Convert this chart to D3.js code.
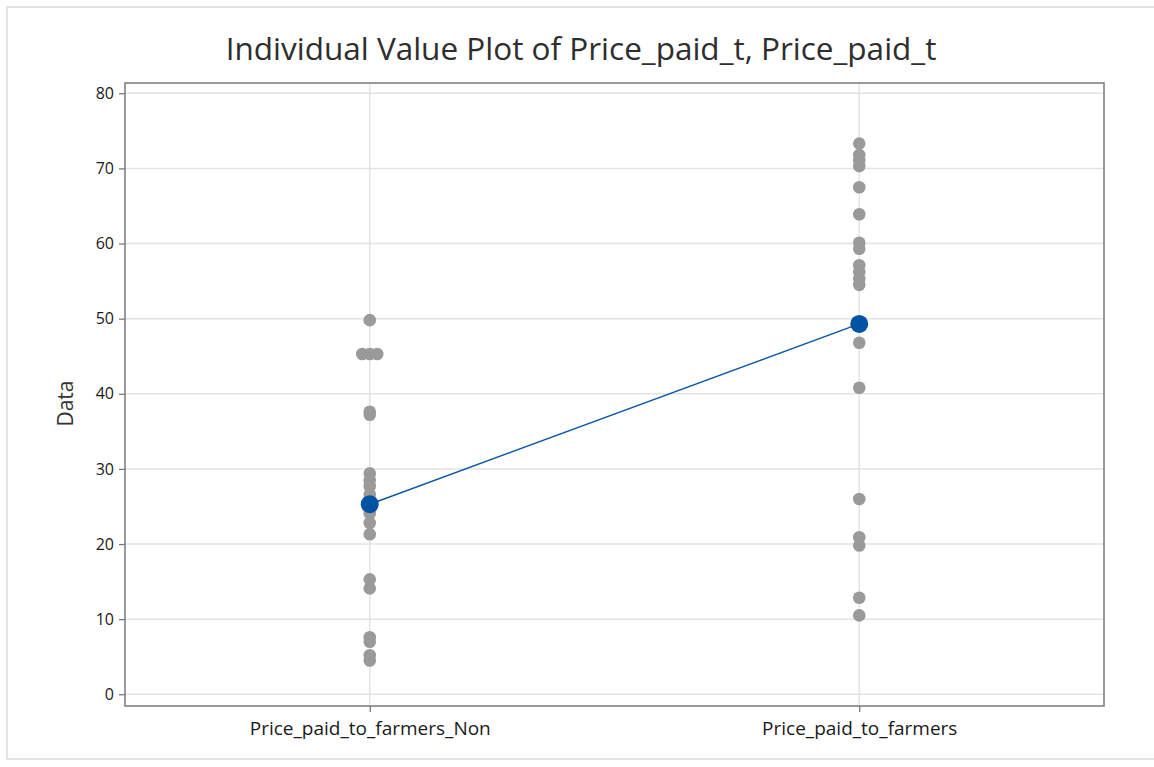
<!DOCTYPE html>
<html>
<head>
<meta charset="utf-8">
<script src="https://cdn.jsdelivr.net/npm/d3@7/dist/d3.min.js"></script>
<style>
  html, body { margin: 0; padding: 0; background: #fff; }
  svg { display: block; }
  text { font-family: "Open Sans", "Noto Sans", sans-serif; }
</style>
</head>
<body>
<svg id="chart" width="1154" height="767"></svg>
<script>
// ---- data ----
const categories = ["Price_paid_to_farmers_Non", "Price_paid_to_farmers"];
const valuesNon = [49.8, 45.3, 45.3, 45.3, 37.6, 37.2, 29.4, 28.5, 27.7, 26.6, 25.5,
                   24.1, 22.8, 21.3, 15.3, 14.1, 7.6, 7.0, 5.2, 4.5];
const valuesFarmers = [73.3, 71.8, 71.1, 70.3, 67.5, 63.9, 60.1, 59.3, 57.1, 56.2, 55.3,
                       54.5, 49.3, 46.8, 40.8, 26.0, 20.9, 19.8, 12.85, 10.5];
const means = [25.3, 49.3];
const yTicks = [0, 10, 20, 30, 40, 50, 60, 70, 80];
const titleText = "Individual Value Plot of Price_paid_t, Price_paid_t";
const yLabel = "Data";

const series = [valuesNon, valuesFarmers];

// ---- layout ----
const svg = d3.select("#chart");
const plot = { left: 125, right: 1104, top: 83, bottom: 706 };

// outer frame
svg.append("rect")
  .attr("x", 7).attr("y", 7).attr("width", 1170).attr("height", 752)
  .attr("fill", "none").attr("stroke", "#dcdcdc").attr("stroke-width", 1.5);

const x = d3.scalePoint().domain(categories)
  .range([plot.left, plot.right]).padding(0.5);
const y = d3.scaleLinear().domain([-1.56, 81.37])
  .range([plot.bottom, plot.top]);

// gridlines
const g = svg.append("g");
g.selectAll("line.hgrid").data(yTicks).enter().append("line")
  .attr("class", "hgrid")
  .attr("x1", plot.left).attr("x2", plot.right)
  .attr("y1", d => y(d)).attr("y2", d => y(d))
  .attr("stroke", "#e3e3e3").attr("stroke-width", 1.5);
g.selectAll("line.vgrid").data(categories).enter().append("line")
  .attr("class", "vgrid")
  .attr("x1", d => x(d)).attr("x2", d => x(d))
  .attr("y1", plot.top).attr("y2", plot.bottom)
  .attr("stroke", "#e3e3e3").attr("stroke-width", 1.5);

// axes
const yAxis = d3.axisLeft(y).tickValues(yTicks).tickSize(6).tickPadding(5);
const yG = svg.append("g").attr("transform", `translate(${plot.left},0)`).call(yAxis);
yG.select(".domain").remove();
yG.selectAll(".tick line").attr("stroke", "#707070").attr("stroke-width", 1.2);
yG.selectAll(".tick text").attr("fill", "#1a1a1a").style("font-size", "16px")
  .style("font-family", "'Open Sans', sans-serif");

const xAxis = d3.axisBottom(x).tickSize(6).tickPadding(10);
const xG = svg.append("g").attr("transform", `translate(0,${plot.bottom})`).call(xAxis);
xG.select(".domain").remove();
xG.selectAll(".tick line").attr("stroke", "#707070").attr("stroke-width", 1.2);
xG.selectAll(".tick text").attr("fill", "#1a1a1a").style("font-size", "19px")
  .style("font-family", "'Open Sans', sans-serif");

// plot frame
svg.append("rect")
  .attr("x", plot.left).attr("y", plot.top)
  .attr("width", plot.right - plot.left).attr("height", plot.bottom - plot.top)
  .attr("fill", "none").attr("stroke", "#7a7a7a").attr("stroke-width", 1.5);

// points (ties spread side by side)
const pts = [];
series.forEach((vals, i) => {
  const counts = d3.rollup(vals, v => v.length, v => v);
  const seen = new Map();
  vals.forEach(v => {
    const n = counts.get(v);
    const k = seen.get(v) || 0;
    seen.set(v, k + 1);
    pts.push({ cat: categories[i], v: v, off: (k - (n - 1) / 2) * 7.5 });
  });
});
svg.append("g").selectAll("circle").data(pts).enter().append("circle")
  .attr("cx", d => x(d.cat) + d.off)
  .attr("cy", d => y(d.v))
  .attr("r", 6.3)
  .attr("fill", "#9a9a9a");

// mean connect line + markers
const meanData = categories.map((c, i) => ({ cat: c, m: means[i] }));
svg.append("path").datum(meanData)
  .attr("d", d3.line().x(d => x(d.cat)).y(d => y(d.m)))
  .attr("fill", "none").attr("stroke", "#0a56a8").attr("stroke-width", 1.5);
svg.append("g").selectAll("circle").data(meanData).enter().append("circle")
  .attr("cx", d => x(d.cat)).attr("cy", d => y(d.m))
  .attr("r", 9).attr("fill", "#0052a3");

// title
svg.append("text")
  .attr("x", 581).attr("y", 60)
  .attr("text-anchor", "middle")
  .attr("fill", "#2e2e2e")
  .style("font-size", "31.5px")
  .text(titleText);

// y label
svg.append("text")
  .attr("transform", `translate(73,${(plot.top + plot.bottom) / 2 + 9}) rotate(-90)`)
  .attr("text-anchor", "middle")
  .attr("fill", "#333")
  .style("font-size", "21px")
  .text(yLabel);
</script>
</body>
</html>
